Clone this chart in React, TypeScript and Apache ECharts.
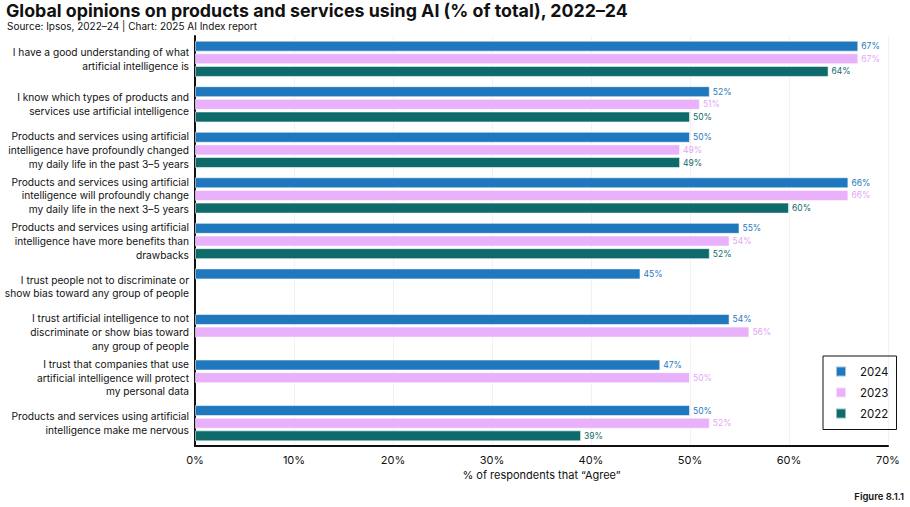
import React, { useEffect, useRef } from "react";
import * as echarts from "echarts";

const categories = [
  "I have a good understanding of what\nartificial intelligence is",
  "I know which types of products and\nservices use artificial intelligence",
  "Products and services using artificial\nintelligence have profoundly changed\nmy daily life in the past 3–5 years",
  "Products and services using artificial\nintelligence will profoundly change\nmy daily life in the next 3–5 years",
  "Products and services using artificial\nintelligence have more benefits than\ndrawbacks",
  "I trust people not to discriminate or\nshow bias toward any group of people",
  "I trust artificial intelligence to not\ndiscriminate or show bias toward\nany group of people",
  "I trust that companies that use\nartificial intelligence will protect\nmy personal data",
  "Products and services using artificial\nintelligence make me nervous",
];

const values2024 = [67, 52, 50, 66, 55, 45, 54, 47, 50];
const values2023 = [67, 51, 49, 66, 54, null, 56, 50, 52];
const values2022 = [64, 50, 49, 60, 52, null, null, null, 39];

const xTicks = [0, 10, 20, 30, 40, 50, 60, 70];

const seriesDefs = [
  { name: "2024", data: values2024, color: "#1f78be", label: "#1f78be" },
  { name: "2023", data: values2023, color: "#e9b0fb", label: "#e4a6f6" },
  { name: "2022", data: values2022, color: "#0e6a6b", label: "#0e6a6b" },
];

const FONT = "Inter, 'Liberation Sans', sans-serif";

export default function App() {
  const ref = useRef<HTMLDivElement>(null);
  useEffect(() => {
    if (!ref.current) return;
    const chart = echarts.init(ref.current, null, { renderer: "svg" });
    chart.setOption({
      animation: false,
      backgroundColor: "#ffffff",
      textStyle: { fontFamily: FONT },
      title: [
        {
          text: "Global opinions on products and services using AI (% of total), 2022–24",
          left: 6,
          top: 1,
          padding: 0,
          textStyle: { fontFamily: FONT, fontSize: 17.8, fontWeight: "bold", color: "#111111" },
        },
        {
          text: "Source: Ipsos, 2022–24 | Chart: 2025 AI Index report",
          left: 7,
          top: 21,
          padding: 0,
          textStyle: { fontFamily: FONT, fontSize: 10, fontWeight: "normal", color: "#111111" },
        },
        {
          text: "Figure 8.1.1",
          right: 6,
          top: 491,
          padding: 0,
          textStyle: { fontFamily: FONT, fontSize: 9.5, fontWeight: 600, color: "#111111" },
        },
      ],
      legend: {
        orient: "vertical",
        left: 823,
        top: 356,
        data: ["2024", "2023", "2022"],
        icon: "rect",
        itemWidth: 10,
        itemHeight: 10,
        itemGap: 9,
        padding: [9.5, 8, 10, 12],
        borderColor: "#111111",
        borderWidth: 1,
        textStyle: { fontFamily: FONT, fontSize: 11.5, color: "#111111", padding: [0, 0, 0, 9] },
      },
      grid: { left: 195, right: 22, top: 36, bottom: 61, containLabel: false, outerBoundsMode: "none" },
      xAxis: {
        type: "value",
        min: 0,
        max: 70,
        interval: 10,
        name: "% of respondents that “Agree”",
        nameLocation: "middle",
        nameGap: 23,
        nameTextStyle: { fontFamily: FONT, fontSize: 11, color: "#111111" },
        axisLine: { show: true, lineStyle: { color: "#111111", width: 2 } },
        axisTick: { show: false },
        axisLabel: {
          fontFamily: FONT,
          fontSize: 11,
          color: "#111111",
          margin: 8,
          formatter: (v: number) => (xTicks.includes(v) ? v + "%" : ""),
        },
        splitLine: { show: true, lineStyle: { color: "#f2f2f6", width: 1 } },
      },
      yAxis: {
        type: "category",
        inverse: true,
        data: categories,
        axisLine: { show: true, lineStyle: { color: "#111111", width: 2 } },
        axisTick: { show: false },
        axisLabel: {
          fontFamily: FONT,
          fontSize: 10.2,
          lineHeight: 13.7,
          color: "#111111",
          margin: 6,
          align: "right",
        },
        splitLine: { show: false },
      },
      series: seriesDefs.map((s) => ({
        name: s.name,
        type: "bar",
        data: s.data,
        barWidth: 11,
        barGap: "15%",
        itemStyle: { color: s.color, borderColor: "rgba(255,255,255,0.55)", borderWidth: 1 },
        label: {
          show: true,
          position: "right",
          distance: 3,
          fontFamily: FONT,
          fontSize: 8.5,
          color: s.label,
          formatter: (p: any) => (p.value == null ? "" : p.value + "%"),
        },
      })),
    });
    return () => chart.dispose();
  }, []);
  return (
    <div
      ref={ref}
      style={{ position: "fixed", left: 0, top: 0, width: 910, height: 507 }}
    />
  );
}
